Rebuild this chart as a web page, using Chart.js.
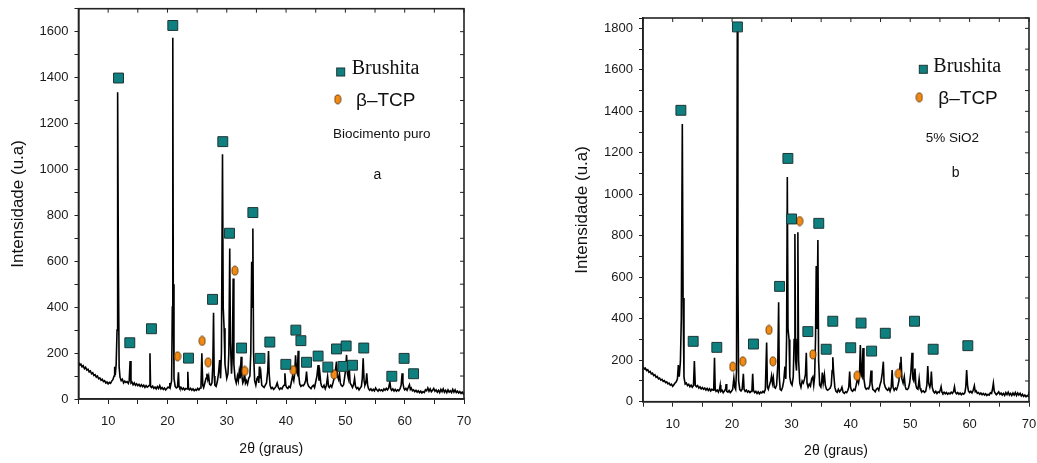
<!DOCTYPE html>
<html><head><meta charset="utf-8">
<script src="https://cdn.jsdelivr.net/npm/chart.js@4.4.1/dist/chart.umd.min.js"></script>
<style>
html,body{margin:0;padding:0;background:#fff;}
#wrap{position:relative;width:1037px;height:463px;overflow:hidden;background:#fff;}
#ca{position:absolute;left:0;top:0;}
#cb{position:absolute;left:540px;top:0;}
</style></head><body>
<div id="wrap">
<canvas id="ca" width="480" height="463" style="width:480px;height:463px"></canvas>
<canvas id="cb" width="497" height="463" style="width:497px;height:463px"></canvas>
</div>
<script>
// ---------- DATA ----------
const xTicks = [5,10,15,20,25,30,35,40,45,50,55,60,65,70];
const yTicksA = [0,100,200,300,400,500,600,700,800,900,1000,1100,1200,1300,1400,1500,1600,1700];
const yTicksB = [0,100,200,300,400,500,600,700,800,900,1000,1100,1200,1300,1400,1500,1600,1700,1800,1850];

// Panel a: diffractogram [2theta, intensity]
const patternA = [[5.0,160],[5.2,148],[5.4,152],[5.6,140],[5.8,145],[6.0,132],[6.2,138],[6.4,126],[6.6,130],[6.8,118],[7.0,122],[7.2,110],[7.4,114],[7.6,102],[7.8,106],[8.0,95],[8.2,100],[8.4,88],[8.6,92],[8.8,82],[9.0,86],[9.2,76],[9.4,80],[9.6,70],[9.8,74],[10.0,66],[10.2,72],[10.4,68],[10.6,78],[10.8,84],[11.0,100],[11.1,140],[11.2,105],[11.35,150],[11.5,300],[11.6,1336],[11.72,600],[11.85,140],[12.0,95],[12.2,80],[12.4,86],[12.6,70],[12.8,78],[13.0,72],[13.2,76],[13.4,68],[13.55,80],[13.7,165],[13.85,70],[14.0,74],[14.2,62],[14.4,70],[14.6,60],[14.8,66],[15.0,58],[15.2,64],[15.4,55],[15.6,62],[15.8,54],[16.0,60],[16.2,50],[16.4,58],[16.6,52],[16.8,56],[16.95,60],[17.05,199],[17.15,55],[17.3,50],[17.5,56],[17.7,46],[17.9,52],[18.1,44],[18.3,54],[18.5,46],[18.7,58],[18.9,44],[19.1,50],[19.3,42],[19.5,48],[19.7,40],[19.9,46],[20.1,52],[20.3,48],[20.4,70],[20.5,55],[20.7,80],[20.82,400],[20.9,1574],[20.98,500],[21.1,90],[21.3,55],[21.5,48],[21.7,52],[21.85,116],[21.95,55],[22.1,46],[22.3,50],[22.5,42],[22.7,48],[22.9,40],[23.1,46],[23.3,44],[23.43,119],[23.55,45],[23.7,40],[23.9,46],[24.1,38],[24.3,44],[24.5,36],[24.7,42],[24.9,38],[25.1,46],[25.3,40],[25.5,48],[25.65,55],[25.8,199],[25.95,60],[26.1,50],[26.3,70],[26.5,90],[26.65,110],[26.8,85],[26.95,100],[27.1,65],[27.3,60],[27.5,70],[27.65,150],[27.77,376],[27.88,100],[28.0,60],[28.2,55],[28.4,75],[28.6,110],[28.8,170],[28.95,90],[29.1,200],[29.28,1066],[29.4,400],[29.55,308],[29.7,150],[29.85,120],[30.0,90],[30.2,110],[30.35,200],[30.5,656],[30.62,250],[30.8,110],[30.95,200],[31.08,525],[31.2,150],[31.4,90],[31.6,70],[31.8,100],[31.95,80],[32.1,120],[32.25,90],[32.43,184],[32.55,100],[32.7,70],[32.85,80],[33.0,113],[33.15,70],[33.3,80],[33.5,65],[33.7,90],[33.9,100],[34.05,200],[34.2,598],[34.3,400],[34.4,743],[34.52,200],[34.7,80],[34.9,60],[35.1,90],[35.25,100],[35.4,70],[35.5,141],[35.6,90],[35.75,110],[35.9,60],[36.1,55],[36.3,50],[36.5,60],[36.7,70],[36.9,120],[37.04,209],[37.15,110],[37.3,60],[37.5,45],[37.7,50],[37.9,42],[38.1,48],[38.3,55],[38.5,70],[38.7,50],[38.9,42],[39.1,48],[39.3,44],[39.5,55],[39.65,60],[39.8,112],[39.95,60],[40.1,50],[40.3,46],[40.5,55],[40.7,50],[40.9,75],[41.1,100],[41.3,80],[41.45,110],[41.6,190],[41.75,120],[41.9,110],[42.04,210],[42.15,100],[42.3,65],[42.5,55],[42.7,60],[42.9,58],[43.1,65],[43.3,80],[43.45,119],[43.6,70],[43.8,55],[44.0,50],[44.2,45],[44.4,55],[44.6,60],[44.8,50],[45.0,75],[45.2,100],[45.4,148],[45.55,80],[45.7,110],[45.85,70],[46.0,55],[46.2,50],[46.4,60],[46.6,45],[46.8,60],[47.0,97],[47.15,55],[47.3,50],[47.5,60],[47.7,52],[47.9,70],[48.1,90],[48.3,120],[48.5,163],[48.65,100],[48.85,85],[49.0,110],[49.15,70],[49.3,60],[49.5,55],[49.7,62],[49.9,100],[50.05,130],[50.2,192],[50.35,110],[50.5,90],[50.65,135],[50.8,70],[51.0,60],[51.2,50],[51.4,65],[51.55,90],[51.7,55],[51.9,45],[52.1,50],[52.3,40],[52.5,48],[52.7,55],[52.85,90],[53.0,177],[53.15,80],[53.3,60],[53.45,70],[53.6,112],[53.75,60],[53.9,45],[54.1,38],[54.3,44],[54.5,36],[54.7,42],[54.9,35],[55.1,48],[55.3,40],[55.5,34],[55.7,42],[55.9,36],[56.1,40],[56.3,34],[56.5,44],[56.7,38],[56.9,46],[57.1,40],[57.3,48],[57.5,75],[57.65,45],[57.8,38],[58.0,44],[58.2,35],[58.4,42],[58.6,34],[58.8,40],[59.0,36],[59.2,44],[59.4,60],[59.57,112],[59.7,70],[59.85,48],[60.0,40],[60.2,46],[60.4,38],[60.6,50],[60.8,62],[60.95,42],[61.1,48],[61.3,36],[61.5,40],[61.7,32],[61.9,38],[62.1,30],[62.3,36],[62.5,28],[62.7,34],[62.9,26],[63.1,32],[63.3,28],[63.5,40],[63.7,36],[63.9,48],[64.1,34],[64.3,44],[64.5,32],[64.7,38],[64.9,46],[65.1,34],[65.3,40],[65.5,30],[65.7,38],[65.9,28],[66.1,42],[66.3,32],[66.5,44],[66.7,30],[66.9,38],[67.1,28],[67.3,40],[67.5,30],[67.7,36],[67.9,28],[68.1,42],[68.3,30],[68.5,40],[68.7,28],[68.9,34],[69.1,26],[69.3,32],[69.5,24],[69.7,30],[69.9,22],[70.0,28]];

// Panel a: phase markers [2theta, intensity]
const brushitaA = [[11.75,1398],[13.65,245],[17.3,306],[20.9,1627],[23.55,178],[27.6,434],[29.33,1121],[30.46,722],[32.5,222],[34.4,812],[35.6,177],[37.26,248],[39.96,151],[41.65,300],[42.5,254],[43.45,160],[45.4,187],[47.04,139],[48.5,218],[49.6,142],[50.13,231],[51.2,147],[53.1,222],[57.83,99],[59.9,177],[61.5,110]];
const tcpA = [[21.7,186],[25.85,253],[26.86,160],[31.36,559],[33.04,122],[41.2,126],[48.1,107]];

// Panel b: diffractogram [2theta, intensity]
const patternB = [[5.0,170],[5.2,158],[5.4,162],[5.6,150],[5.8,154],[6.0,142],[6.2,146],[6.4,134],[6.6,138],[6.8,126],[7.0,130],[7.2,118],[7.4,122],[7.6,110],[7.8,114],[8.0,104],[8.2,108],[8.4,98],[8.6,102],[8.8,92],[9.0,96],[9.2,86],[9.4,90],[9.6,80],[9.8,84],[10.0,74],[10.2,82],[10.4,90],[10.6,96],[10.8,110],[10.95,177],[11.1,120],[11.3,193],[11.45,400],[11.62,1339],[11.75,500],[11.9,120],[12.1,85],[12.3,90],[12.5,78],[12.7,84],[12.9,72],[13.1,80],[13.3,70],[13.5,78],[13.65,196],[13.8,80],[14.0,72],[14.2,78],[14.4,66],[14.6,72],[14.8,62],[15.0,68],[15.2,60],[15.4,66],[15.6,56],[15.8,64],[16.0,54],[16.2,62],[16.4,52],[16.6,60],[16.8,55],[16.92,70],[17.04,212],[17.16,60],[17.3,50],[17.5,56],[17.7,46],[17.9,62],[18.0,80],[18.1,50],[18.3,56],[18.5,44],[18.7,52],[18.9,60],[19.0,85],[19.1,50],[19.3,46],[19.5,54],[19.7,44],[19.9,50],[20.1,60],[20.3,113],[20.45,70],[20.6,60],[20.75,150],[20.88,1790],[20.98,600],[21.1,100],[21.3,58],[21.5,52],[21.7,60],[21.9,134],[22.02,60],[22.2,50],[22.4,56],[22.6,46],[22.8,52],[23.0,44],[23.2,50],[23.35,60],[23.47,134],[23.6,55],[23.8,44],[24.0,50],[24.2,40],[24.4,48],[24.6,38],[24.8,46],[25.0,42],[25.2,50],[25.4,44],[25.6,60],[25.82,285],[25.95,70],[26.1,60],[26.3,80],[26.5,100],[26.65,125],[26.8,90],[26.95,115],[27.1,70],[27.3,65],[27.5,80],[27.7,180],[27.84,479],[27.95,120],[28.1,60],[28.3,55],[28.5,70],[28.7,100],[28.9,169],[29.05,110],[29.18,300],[29.3,1083],[29.42,350],[29.6,300],[29.72,120],[29.9,90],[30.1,80],[30.3,120],[30.45,300],[30.58,809],[30.7,200],[30.85,150],[30.97,300],[31.08,817],[31.2,200],[31.4,90],[31.6,70],[31.8,100],[32.0,90],[32.2,110],[32.35,130],[32.5,236],[32.62,90],[32.8,70],[33.0,85],[33.2,75],[33.4,110],[33.6,120],[33.75,80],[33.9,120],[34.05,300],[34.17,654],[34.3,350],[34.45,780],[34.57,200],[34.75,80],[34.95,70],[35.1,100],[35.2,140],[35.35,90],[35.55,130],[35.7,80],[35.9,60],[36.1,55],[36.3,60],[36.5,65],[36.7,80],[36.85,150],[36.96,214],[37.1,140],[37.3,70],[37.5,50],[37.7,45],[37.9,60],[38.1,48],[38.3,55],[38.5,70],[38.7,45],[38.9,40],[39.1,48],[39.3,44],[39.5,55],[39.65,70],[39.8,145],[39.95,70],[40.1,55],[40.3,50],[40.5,60],[40.7,55],[40.9,80],[41.1,110],[41.3,90],[41.45,120],[41.6,273],[41.75,130],[41.9,120],[42.05,259],[42.2,110],[42.4,70],[42.6,60],[42.8,65],[43.0,62],[43.2,80],[43.4,150],[43.55,90],[43.7,60],[43.9,55],[44.1,48],[44.3,60],[44.5,65],[44.7,55],[44.9,80],[45.1,100],[45.3,140],[45.47,193],[45.6,90],[45.8,70],[46.0,60],[46.2,55],[46.4,65],[46.6,50],[46.8,70],[46.95,153],[47.1,70],[47.3,55],[47.5,65],[47.7,58],[47.9,75],[48.1,100],[48.3,185],[48.44,217],[48.6,110],[48.8,90],[49.0,120],[49.15,75],[49.3,60],[49.5,58],[49.7,65],[49.9,90],[50.1,140],[50.3,236],[50.45,110],[50.6,100],[50.8,160],[50.95,80],[51.1,65],[51.3,60],[51.5,110],[51.65,65],[51.8,55],[52.0,48],[52.2,52],[52.4,45],[52.6,50],[52.8,80],[52.95,172],[53.1,90],[53.3,70],[53.45,90],[53.56,145],[53.7,70],[53.9,50],[54.1,42],[54.3,50],[54.5,40],[54.7,48],[54.9,44],[55.1,60],[55.2,72],[55.35,45],[55.5,40],[55.7,46],[55.9,38],[56.1,44],[56.3,36],[56.5,42],[56.7,38],[56.9,46],[57.1,40],[57.3,50],[57.45,72],[57.6,45],[57.8,38],[58.0,44],[58.2,36],[58.4,42],[58.6,34],[58.8,40],[59.0,36],[59.2,44],[59.35,70],[59.5,153],[59.65,80],[59.8,52],[60.0,44],[60.2,50],[60.4,42],[60.6,55],[60.8,77],[60.95,48],[61.1,52],[61.3,40],[61.5,44],[61.7,36],[61.9,42],[62.1,34],[62.3,40],[62.5,32],[62.7,38],[62.9,30],[63.1,36],[63.3,32],[63.5,44],[63.7,40],[63.85,60],[64.0,89],[64.15,50],[64.3,42],[64.5,34],[64.7,40],[64.9,48],[65.1,36],[65.3,42],[65.5,32],[65.7,40],[65.9,30],[66.1,44],[66.3,34],[66.5,46],[66.7,32],[66.9,40],[67.1,30],[67.3,42],[67.5,32],[67.7,44],[67.9,30],[68.1,42],[68.3,32],[68.5,40],[68.7,28],[68.9,36],[69.1,26],[69.3,32],[69.5,24],[69.7,30],[69.9,26],[70.0,50]];

// Panel b: phase markers
const brushitaB = [[11.38,1405],[13.45,291],[17.43,262],[20.9,1807],[23.6,278],[28.0,556],[29.4,1173],[30.02,881],[32.76,338],[34.6,860],[35.85,253],[36.96,388],[39.98,260],[41.72,379],[43.5,244],[45.8,330],[50.72,388],[53.86,253],[59.7,270]];
const tcpB = [[20.11,169],[21.8,195],[26.2,346],[26.88,195],[31.38,871],[33.6,228],[41.05,125],[48.0,135]];

const legendLabels = ['Brushita', 'β\u2013TCP'];
const sampleLabels = ['Biocimento puro', '5% SiO2'];
const panelLetters = ['a', 'b'];
const xTitle = '2θ (graus)';
const yTitle = 'Intensidade (u.a)';

// ---------- STYLE ----------
const TEAL = '#0f8080', TEAL_EDGE = '#1d3535';
const ORANGE = '#f58a12', ORANGE_EDGE = '#5b3200';
const SANS = '"Liberation Sans", Arial, sans-serif';
const SERIF = '"Liberation Serif", "Times New Roman", serif';

function ellipseImg(rx, ry) {
  const c = document.createElement('canvas');
  c.width = Math.ceil(rx*2+2); c.height = Math.ceil(ry*2+2);
  const g = c.getContext('2d');
  g.beginPath(); g.ellipse(c.width/2, c.height/2, rx, ry, 0, 0, Math.PI*2);
  g.fillStyle = ORANGE; g.fill(); g.lineWidth = 0.9; g.strokeStyle = ORANGE_EDGE; g.stroke();
  return c;
}
const ovalImg = ellipseImg(3, 4.5);

const toXY = arr => arr.map(p => ({x: p[0], y: p[1]}));

const framePlugin = {
  id: 'frame',
  afterDraw(chart) {
    const {ctx, chartArea: a, scales} = chart;
    ctx.save();
    ctx.strokeStyle = '#222'; ctx.lineWidth = 1.6;
    ctx.strokeRect(a.left, a.top, a.right - a.left, a.bottom - a.top);
    ctx.lineWidth = 1;
    ctx.beginPath();
    xTicks.forEach(v => { const px = scales.x.getPixelForValue(v); ctx.moveTo(px, a.top); ctx.lineTo(px, a.top + 4); });
    scales.y.ticks.forEach(t => { const py = scales.y.getPixelForValue(t.value); ctx.moveTo(a.right, py); ctx.lineTo(a.right - 4, py); });
    ctx.stroke();
    ctx.restore();
  }
};

const annotPlugin = {
  id: 'annot',
  afterDraw(chart, args, o) {
    const ctx = chart.ctx;
    ctx.save();
    const s = 8;
    ctx.fillStyle = TEAL; ctx.strokeStyle = TEAL_EDGE; ctx.lineWidth = 1;
    ctx.fillRect(o.sq[0]-s/2, o.sq[1]-s/2, s, s); ctx.strokeRect(o.sq[0]-s/2, o.sq[1]-s/2, s, s);
    ctx.drawImage(ovalImg, o.ov[0]-ovalImg.width/2, o.ov[1]-ovalImg.height/2);
    ctx.fillStyle = '#111'; ctx.textBaseline = 'middle'; ctx.textAlign = 'left';
    ctx.font = '20px ' + SERIF; ctx.fillText(legendLabels[0], o.t1[0], o.t1[1]);
    ctx.font = '19px ' + SANS; ctx.fillText(legendLabels[1], o.t2[0], o.t2[1]);
    ctx.font = '13.5px ' + SANS; ctx.fillText(o.sample, o.t3[0], o.t3[1]);
    ctx.textAlign = 'center'; ctx.font = '14px ' + SANS; ctx.fillText(o.letter, o.t4[0], o.t4[1]);
    ctx.restore();
  }
};

function makeChart(id, pattern, brus, tcp, yTicks, yMax, lay, annot) {
  return new Chart(document.getElementById(id), {
    type: 'scatter',
    data: {
      datasets: [
        {data: toXY(brus), pointStyle: 'rect', pointRadius: 7, pointHoverRadius: 7,
         backgroundColor: TEAL, borderColor: TEAL_EDGE, borderWidth: 1, order: 0},
        {data: toXY(tcp), pointStyle: ovalImg, pointRadius: 5, order: 0},
        {data: toXY(pattern), showLine: true, pointRadius: 0, borderColor: '#000',
         borderWidth: 1.6, tension: 0, order: 1}
      ]
    },
    options: {
      responsive: false, animation: false,
      layout: {padding: {left: 0, right: lay.right, top: lay.top, bottom: 0}},
      plugins: {legend: {display: false}, tooltip: {enabled: false}, annot: annot},
      scales: {
        x: {
          type: 'linear', min: 5, max: 70,
          afterBuildTicks: s => { s.ticks = xTicks.map(v => ({value: v})); },
          afterFit: s => { s.height = lay.xh; s.paddingLeft = 0; s.paddingRight = 0; },
          grid: {drawOnChartArea: false, tickLength: 5, color: '#222'},
          border: {color: '#222', width: 1.6},
          ticks: {font: {size: 13, family: SANS}, color: '#1a1a1a', padding: 10, maxRotation: 0, autoSkip: false,
                  callback: v => (v % 10 === 0 ? String(v) : '')},
          title: {display: true, text: xTitle, font: {size: 14, family: SANS}, color: '#111',
                  padding: {top: 0, bottom: lay.xtp}}
        },
        y: {
          type: 'linear', min: 0, max: yMax,
          afterBuildTicks: s => { s.ticks = yTicks.map(v => ({value: v})); },
          afterFit: s => { s.width = lay.yw; s.paddingTop = 0; s.paddingBottom = 0; },
          grid: {drawOnChartArea: false, tickLength: 4, color: '#222'},
          border: {color: '#222', width: 1.6},
          ticks: {font: {size: 13, family: SANS}, color: '#1a1a1a', padding: 6, autoSkip: false,
                  callback: v => (v % 200 === 0 ? String(v) : '')},
          title: {display: true, text: yTitle, font: {size: 17, family: SANS}, color: '#111',
                  padding: {top: lay.ytp, bottom: 0}}
        }
      }
    },
    plugins: [framePlugin, annotPlugin]
  });
}

makeChart('ca', patternA, brushitaA, tcpA, yTicksA, 1700,
  {right: 16, top: 8.7, xh: 64, yw: 78.5, xtp: 5, ytp: 8},
  {sq: [340.7, 72], ov: [337.7, 99.3], t1: [351.7, 68.3], t2: [356, 100.7], t3: [333, 134], t4: [377.3, 175],
   sample: sampleLabels[0], letter: panelLetters[0]});

makeChart('cb', patternB, brushitaB, tcpB, yTicksB, 1850,
  {right: 7, top: 18, xh: 61.3, yw: 103, xtp: 3, ytp: 32},
  {sq: [383.3, 69.3], ov: [379.3, 97.3], t1: [393.3, 66.7], t2: [398.3, 98.3], t3: [385.7, 138.3], t4: [415.7, 172.7],
   sample: sampleLabels[1], letter: panelLetters[1]});
</script>
</body></html>
